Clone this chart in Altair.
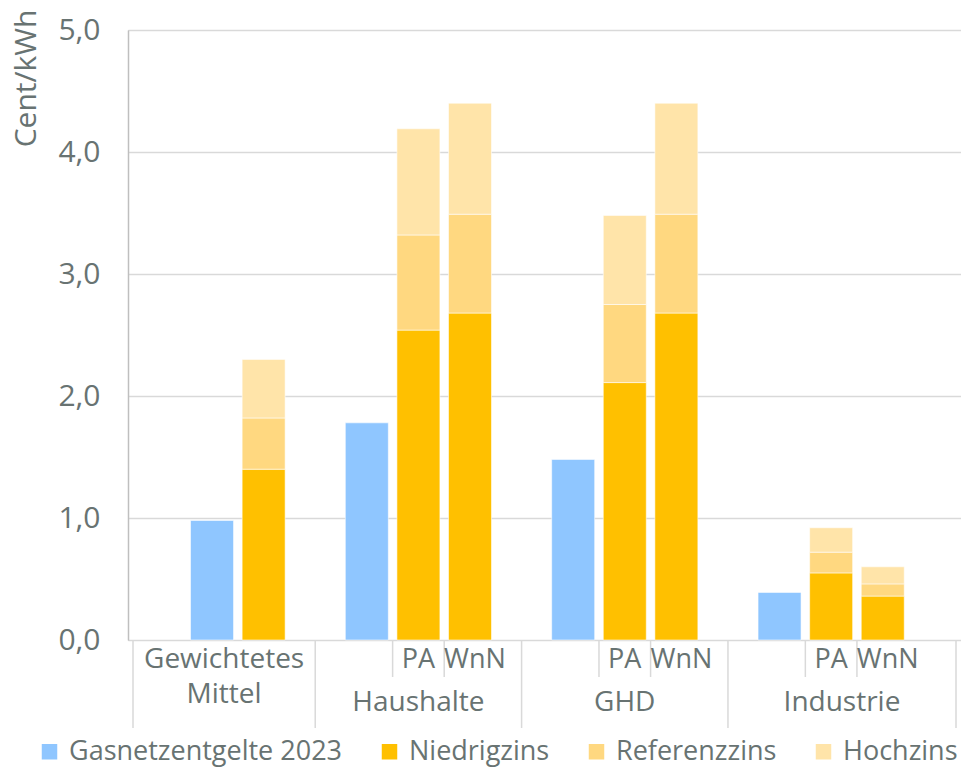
import altair as alt
import pandas as pd

# ---------------- data ----------------
groups = ["Gewichtetes Mittel", "Haushalte", "GHD", "Industrie"]
gas_2023 = [0.98, 1.78, 1.48, 0.39]

scen_group = ["Gewichtetes Mittel", "Haushalte", "Haushalte", "GHD", "GHD", "Industrie", "Industrie"]
scen_variant = ["", "PA", "WnN", "PA", "WnN", "PA", "WnN"]
niedrigzins = [1.40, 2.54, 2.68, 2.11, 2.68, 0.55, 0.36]
referenzzins = [0.42, 0.78, 0.81, 0.64, 0.81, 0.17, 0.10]
hochzins = [0.48, 0.87, 0.91, 0.73, 0.91, 0.20, 0.14]

series = ["Gasnetzentgelte 2023", "Niedrigzins", "Referenzzins", "Hochzins"]
colors = ["#8FC6FF", "#FFC000", "#FFD880", "#FFE4A9"]

FONT = "Open Sans"
TXT = "#687372"
LINE = "#d9d9d9"

# ---------------- layout of category slots ----------------
def blue_slot(g):
    return 1 if g == 0 else 4 * g

def scen_slot(i):
    g = groups.index(scen_group[i])
    if g == 0:
        return 2
    return 4 * g + (1 if scen_variant[i] == "PA" else 2)

XMIN, XMAX = -0.532, 15.42

rows = []
for g, v in enumerate(gas_2023):
    rows.append(dict(slot=blue_slot(g), series=series[0], lo=0.0, hi=v))
for i in range(len(scen_group)):
    s = scen_slot(i)
    a = niedrigzins[i]
    b = a + referenzzins[i]
    c = b + hochzins[i]
    rows.append(dict(slot=s, series=series[1], lo=0.0, hi=a))
    rows.append(dict(slot=s, series=series[2], lo=a, hi=b))
    rows.append(dict(slot=s, series=series[3], lo=b, hi=c))
bars_df = pd.DataFrame(rows)

# label positions
bounds = [XMIN, 3, 7, 11, XMAX]
gm_center = (bounds[0] + bounds[1]) / 2
pa_df = pd.DataFrame([dict(slot=scen_slot(i), label=scen_variant[i])
                      for i in range(len(scen_group)) if scen_variant[i] == "PA"])
wnn_df = pd.DataFrame([dict(slot=scen_slot(i), label=scen_variant[i])
                       for i in range(len(scen_group)) if scen_variant[i] == "WnN"])
row1_df = pd.DataFrame([dict(slot=gm_center, label="Gewichtetes")])
row2_df = pd.DataFrame([dict(slot=gm_center, label="Mittel")])
grp_df = pd.DataFrame([dict(slot=(bounds[g] + bounds[g + 1]) / 2, label=groups[g]) for g in range(1, 4)])

sub_sep = []
for g in range(1, 4):
    sub_sep += [4 * g + 0.5, 4 * g + 1.5]
sub_sep_df = pd.DataFrame(dict(slot=sub_sep))
grp_sep_df = pd.DataFrame(dict(slot=bounds))

xscale = alt.Scale(domain=[XMIN, XMAX], nice=False, zero=False)
X = alt.X("slot:Q", scale=xscale, axis=None)

bars = alt.Chart(bars_df).mark_bar(size=43, stroke="white", strokeWidth=0.8, strokeOpacity=0.7).encode(
    x=X,
    y=alt.Y(
        "lo:Q",
        scale=alt.Scale(domain=[0, 5], nice=False),
        axis=alt.Axis(
            values=[0, 1, 2, 3, 4, 5],
            labelExpr="replace(format(datum.value, '.1f'), '.', ',')",
            title="Cent/kWh",
            titleAngle=270,
            titleX=-93,
            titleY=48,
            titleAlign="center",
            titleBaseline="alphabetic",
            titleFontSize=30,
            titleFont=FONT,
            titleFontWeight="normal",
            titleColor=TXT,
            labelFontSize=30,
            labelFont=FONT,
            labelColor=TXT,
            labelPadding=28,
            ticks=False,
            grid=True,
            gridColor=LINE,
            gridWidth=1.3,
            domainColor="#bfbfbf",
            domainWidth=1.5,
        ),
    ),
    y2="hi:Q",
    color=alt.Color(
        "series:N",
        scale=alt.Scale(domain=series, range=colors),
        sort=series,
        legend=alt.Legend(
            title=None,
            orient="none",
            direction="horizontal",
            legendX=-92,
            legendY=708,
            symbolType="square",
            symbolSize=240,
            symbolStrokeWidth=0,
            labelFont=FONT,
            labelFontSize=27,
            labelColor=TXT,
            labelOffset=6,
            columnPadding=33,
            labelLimit=400,
        ),
    ),
)

def label_layer(df, y, dx=0):
    return alt.Chart(df).mark_text(font=FONT, fontSize=27, color=TXT, baseline="middle",
                                   align="center", dx=dx).encode(
        x=X, y=alt.value(y), text="label:N"
    )

pa_text = label_layer(pa_df, 630)
wnn_text = label_layer(wnn_df, 630, dx=5)
row1_text = alt.Chart(row1_df).mark_text(font=FONT, fontSize=28, color=TXT, baseline="middle", align="center").encode(
    x=X, y=alt.value(630), text="label:N"
)
row2_text = alt.Chart(row2_df).mark_text(font=FONT, fontSize=28, color=TXT, baseline="middle", align="center").encode(
    x=X, y=alt.value(665), text="label:N"
)
grp_text = alt.Chart(grp_df).mark_text(font=FONT, fontSize=28, color=TXT, baseline="middle", align="center").encode(
    x=X, y=alt.value(673), text="label:N"
)
sub_rules = alt.Chart(sub_sep_df).mark_rule(color=LINE, strokeWidth=1.5).encode(
    x=X, y=alt.value(610), y2=alt.value(647)
)
grp_rules = alt.Chart(grp_sep_df).mark_rule(color=LINE, strokeWidth=1.5).encode(
    x=X, y=alt.value(610), y2=alt.value(698)
)

chart = alt.layer(grp_rules, sub_rules, bars, pa_text, wnn_text, row1_text, row2_text, grp_text).properties(
    width=833,
    height=610,
    autosize=alt.AutoSizeParams(type="none"),
    padding={"left": 120, "top": 22, "right": 0, "bottom": 130},
).configure_view(stroke=None).configure(background="white")

chart.save("out.html", embed_options={"renderer": "svg", "actions": False})
